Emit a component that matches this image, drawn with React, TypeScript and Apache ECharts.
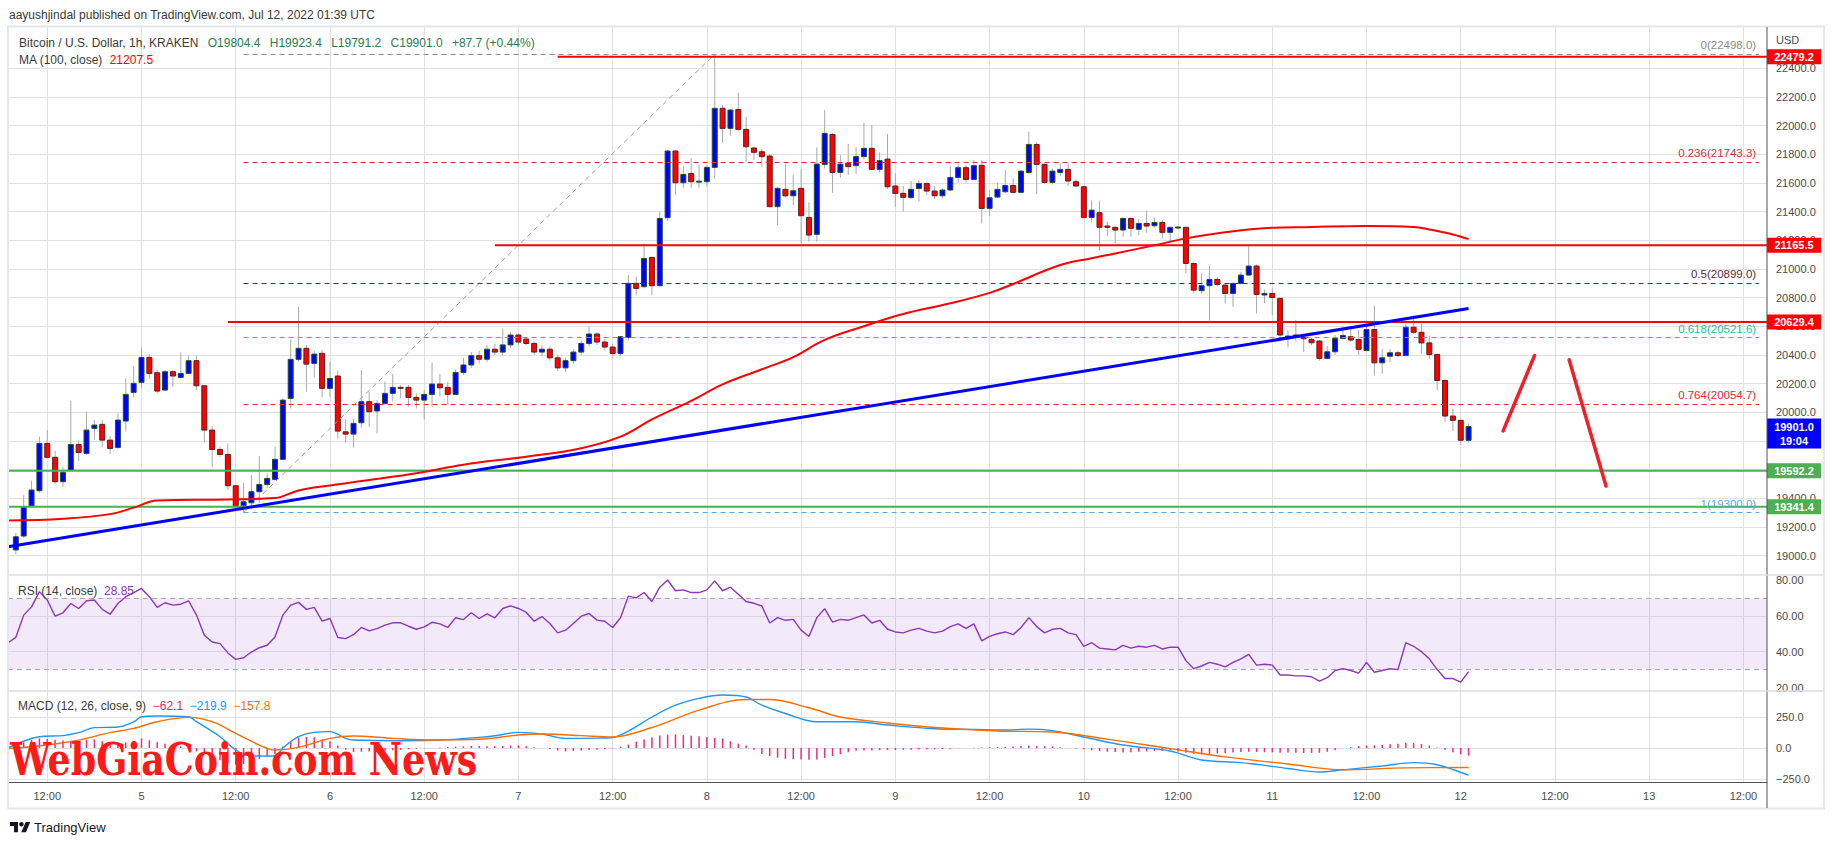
import React, { useEffect, useRef } from 'react';
import * as echarts from 'echarts';

const FONT = "'Liberation Sans', Arial, Helvetica, sans-serif";

// ---------- time axis (hourly slots, Jul 4 07:00 UTC .. Jul 13 15:00 UTC) ----------
const slotStart = Date.UTC(2022, 6, 4, 7);
const slotCount = 225;
const slots = Array.from({ length: slotCount }, (_, i) => new Date(slotStart + i * 3600e3).toISOString().slice(0, 13));
const tickLabels = ['12:00', '5', '12:00', '6', '12:00', '7', '12:00', '8', '12:00', '9', '12:00', '10', '12:00', '11', '12:00', '12', '12:00', '13', '12:00'];
const firstTickSlot = 5;
const tickEvery = 12;
const xMax = slotCount - 1;

// ---------- BTC/USD 1h candles [open, close, low, high], first candle in slot 1 ----------
const firstCandleSlot = 1;
const candles: number[][] = [
  [19040, 19132, 19010, 19160], [19137, 19341, 19125, 19423], [19346, 19458, 19341, 19523], [19453, 19783, 19441, 19830],
  [19783, 19686, 19679, 19876], [19686, 19516, 19504, 19732], [19516, 19581, 19481, 19620], [19597, 19776, 19590, 20081],
  [19776, 19720, 19660, 19806], [19713, 19876, 19705, 20004], [19888, 19911, 19806, 19946], [19916, 19806, 19760, 19946],
  [19806, 19748, 19709, 19834], [19755, 19946, 19741, 19992], [19939, 20125, 19865, 20236], [20139, 20202, 20104, 20323],
  [20209, 20383, 20167, 20453], [20383, 20271, 20236, 20406], [20276, 20148, 20132, 20295], [20155, 20283, 20148, 20295],
  [20283, 20253, 20178, 20295], [20243, 20271, 20236, 20418], [20271, 20360, 20267, 20395], [20360, 20185, 20155, 20395],
  [20185, 19876, 19788, 20190], [19876, 19741, 19620, 19904], [19741, 19706, 19690, 19760], [19706, 19488, 19458, 19783],
  [19488, 19348, 19341, 19493], [19348, 19376, 19300, 19509], [19369, 19446, 19330, 19562], [19446, 19497, 19365, 19695],
  [19497, 19539, 19469, 19574], [19532, 19672, 19523, 19760], [19672, 20085, 19667, 20097], [20097, 20369, 20027, 20508],
  [20369, 20446, 20353, 20736], [20446, 20336, 20143, 20469], [20341, 20406, 20243, 20429], [20411, 20167, 20104, 20434],
  [20167, 20236, 20109, 20353], [20253, 19869, 19818, 20290], [19864, 19848, 19788, 19953], [19848, 19923, 19755, 19957],
  [19927, 20074, 19895, 20295], [20074, 20004, 19899, 20143], [20009, 20062, 19853, 20085], [20062, 20132, 20051, 20213],
  [20132, 20174, 20074, 20267], [20174, 20167, 20097, 20190], [20174, 20104, 20039, 20190], [20104, 20085, 20027, 20132],
  [20085, 20125, 19951, 20155], [20125, 20197, 20039, 20346], [20197, 20171, 20109, 20267], [20174, 20125, 20051, 20213],
  [20125, 20278, 20120, 20299], [20278, 20330, 20260, 20380], [20330, 20395, 20310, 20420], [20395, 20370, 20340, 20430],
  [20370, 20440, 20350, 20470], [20440, 20420, 20400, 20480], [20420, 20470, 20400, 20585], [20470, 20539, 20450, 20560],
  [20539, 20490, 20470, 20550], [20511, 20480, 20470, 20525], [20480, 20420, 20400, 20495], [20420, 20440, 20390, 20470],
  [20440, 20380, 20360, 20460], [20380, 20310, 20290, 20400], [20310, 20360, 20280, 20380], [20360, 20420, 20340, 20440],
  [20420, 20480, 20400, 20500], [20480, 20546, 20460, 20597], [20546, 20490, 20470, 20560], [20490, 20455, 20430, 20510],
  [20455, 20410, 20380, 20480], [20410, 20527, 20395, 20530], [20522, 20899, 20500, 20957], [20899, 20864, 20818, 20946],
  [20876, 21073, 20864, 21178], [21080, 20883, 20818, 21085], [20883, 21352, 20876, 21399], [21357, 21822, 21334, 21830],
  [21822, 21601, 21515, 21830], [21601, 21659, 21566, 21713], [21666, 21608, 21566, 21771], [21608, 21612, 21566, 21724],
  [21608, 21708, 21573, 21724], [21708, 22120, 21631, 22498], [22120, 21980, 21880, 22143], [21980, 22108, 21929, 22115],
  [22112, 21973, 21957, 22229], [21973, 21852, 21748, 22061], [21843, 21813, 21759, 21852], [21817, 21783, 21713, 21834],
  [21787, 21434, 21430, 21799], [21434, 21562, 21306, 21573], [21555, 21510, 21499, 21731], [21510, 21545, 21445, 21655],
  [21562, 21371, 21178, 21696], [21359, 21236, 21190, 21464], [21241, 21731, 21190, 21848], [21729, 21945, 21701, 22108],
  [21938, 21673, 21531, 21945], [21673, 21731, 21636, 21794], [21736, 21713, 21655, 21871], [21720, 21783, 21662, 21848],
  [21783, 21841, 21764, 22020], [21841, 21694, 21689, 22003], [21694, 21755, 21671, 21813], [21766, 21573, 21557, 21941],
  [21578, 21527, 21434, 21667], [21527, 21499, 21399, 21578], [21497, 21555, 21487, 21613], [21561, 21596, 21469, 21620],
  [21596, 21543, 21515, 21600], [21543, 21510, 21487, 21578], [21510, 21550, 21492, 21561], [21550, 21638, 21545, 21717],
  [21638, 21706, 21601, 21736], [21706, 21624, 21601, 21724], [21624, 21720, 21620, 21759], [21722, 21422, 21317, 21759],
  [21422, 21496, 21371, 21545], [21501, 21555, 21495, 21601], [21538, 21582, 21527, 21689], [21582, 21534, 21527, 21631],
  [21534, 21682, 21527, 21689], [21673, 21868, 21661, 21957], [21868, 21729, 21522, 21882], [21729, 21603, 21596, 21736],
  [21603, 21682, 21589, 21701], [21673, 21694, 21648, 21736], [21694, 21613, 21580, 21736], [21608, 21578, 21569, 21627],
  [21573, 21359, 21350, 21578], [21359, 21410, 21324, 21476], [21392, 21290, 21127, 21476], [21299, 21290, 21229, 21329],
  [21290, 21271, 21178, 21294], [21271, 21352, 21224, 21360], [21352, 21283, 21224, 21360], [21276, 21317, 21236, 21348],
  [21317, 21299, 21252, 21406], [21301, 21324, 21290, 21357], [21324, 21255, 21213, 21341], [21255, 21290, 21190, 21294],
  [21290, 21292, 21280, 21300], [21290, 21038, 20969, 21294], [21038, 20852, 20829, 21043], [20848, 20883, 20829, 20969],
  [20883, 20927, 20639, 21020], [20927, 20892, 20876, 20941], [20887, 20829, 20759, 20899], [20829, 20899, 20736, 20904],
  [20899, 20957, 20892, 20980], [20957, 21020, 20950, 21162], [21020, 20822, 20690, 21030], [20818, 20829, 20764, 20857],
  [20829, 20801, 20678, 20864], [20794, 20539, 20527, 20800], [20530, 20532, 20453, 20573], [20539, 20527, 20492, 20643],
  [20522, 20513, 20422, 20550], [20508, 20485, 20469, 20522], [20497, 20376, 20360, 20504], [20376, 20422, 20369, 20462],
  [20422, 20515, 20399, 20539], [20515, 20536, 20508, 20597], [20527, 20504, 20492, 20597], [20508, 20439, 20399, 20573],
  [20431, 20577, 20425, 20628], [20577, 20345, 20257, 20744], [20345, 20380, 20269, 20443], [20391, 20415, 20350, 20443],
  [20415, 20396, 20385, 20431], [20396, 20593, 20392, 20616], [20593, 20558, 20547, 20674], [20558, 20484, 20408, 20616],
  [20484, 20403, 20373, 20535], [20403, 20222, 20153, 20410], [20222, 19974, 19933, 20230], [19974, 19944, 19870, 20026],
  [19944, 19805, 19771, 19949], [19804.4, 19901.0, 19791.2, 19923.4],
];

// MA(100, close) read points [slot, value]
const ma100: number[][] = [
  [0, 19245], [7, 19258], [13, 19290], [16, 19335], [19, 19385], [28, 19392], [34, 19402], [37, 19455], [41, 19490],
  [46, 19528], [52, 19575], [58, 19635], [66, 19690], [73, 19750], [78, 19830], [82, 19950], [87, 20080], [91, 20195],
  [96, 20300], [100, 20385], [104, 20505], [109, 20600], [114, 20685], [120, 20760], [125, 20833], [128, 20895],
  [134, 21027], [138, 21075], [141, 21108], [146, 21165], [150, 21213], [155, 21255], [160, 21284], [166, 21293],
  [173, 21300], [179, 21293], [181, 21275], [184, 21240], [186, 21207.5],
];

// drawings
const redLevels = [22479.2, 21165.5, 20629.4];
const redLevelStart = [70, 62, 28];
const greenLevels = [19592.2, 19341.4];
const greenLevelStart = [0, 0];
const trendLine = [[0, 19063], [186, 20724]];
const fibRatios = ['0', '0.236', '0.5', '0.618', '0.764', '1'];
const fibLevels = [22498.0, 21743.3, 20899.0, 20521.6, 20054.7, 19300.0];
const fibColors = ['#8a8a8a', '#d0323c', '#5d2a42', '#22c59a', '#e5283a', '#5aa7e3'];
const fibAnchor = [[30, 19300], [90, 22498]];
const fibEndSlot = 223;
const projectionUp = [[190.4, 19870], [194.4, 20396]];
const projectionDown = [[198.8, 20366], [203.5, 19486]];
const lastPrice = 19901.0;
const lastSlot = 186;

// RSI(14) per slot from slot 0
const rsi = [
  45, 48, 60.4, 65, 73.5, 68.8, 59.8, 61.7, 66.9, 64.1,
  68.4, 68.8, 63.6, 60.9, 66.9, 70.7, 72.9, 75.3, 70.7, 64.7,
  67.3, 66, 66.5, 68.4, 60.4, 49.2, 45.4, 44.5, 39.3, 35.7,
  36.6, 39.8, 42.2, 43.6, 48.2, 60.4, 66, 67.5, 63.6, 64.7,
  57, 58.5, 47.9, 47.3, 49.5, 53.5, 51.6, 52.9, 54.8, 56.1,
  56.1, 54.2, 52.5, 53.8, 56.4, 55.5, 53.5, 58.9, 57.9, 61.7,
  58.5, 61.1, 58.9, 64.1, 65.6, 64.1, 61.9, 57, 59.6, 55.7,
  50.5, 52, 55.7, 59.8, 61.3, 57.6, 57, 53.5, 58.9, 71,
  70, 73, 68, 76, 80, 74, 74.5, 73, 73, 74.5,
  79.5, 74, 76, 72, 68, 67, 65.5, 56, 59, 57.5,
  58, 52, 48.5, 59, 64, 56.5, 58, 57.5, 59, 60.5,
  56, 57.5, 52.5, 51, 50.5, 52, 53, 51.5, 50.5, 51.5,
  54, 55.5, 53, 55.5, 46, 48.5, 50, 51, 49.5, 53.5,
  59, 54, 50.5, 52.5, 53, 50.5, 49.5, 43, 45, 42,
  41.5, 41, 43.5, 42, 43, 42.5, 43.5, 41.5, 42.5, 42.5,
  35, 30.5, 32, 34, 33, 31.5, 34, 36, 38.5, 32.5,
  33, 32.5, 27, 27, 26.5, 26.5, 26, 23.5, 25.5, 29.5,
  30.5, 29.5, 28, 34, 28.5, 29.5, 30.5, 30, 45, 43,
  40, 36, 30, 25, 25, 23, 28.85,
];

// MACD(12,26,9) read points [slot, value]
const macdLine: number[][] = [
  [0, 0], [4, 91], [7, 100], [9, 124], [11, 164], [14, 169], [16, 210], [17, 252], [19, 258], [23, 252], [24, 212],
  [27, 91], [29, -16], [31, -64], [34, -64], [35, 0], [37, 91], [39, 126], [41, 132], [43, 78], [44, 64], [50, 59],
  [55, 64], [60, 86], [62, 99], [65, 126], [68, 113], [71, 78], [75, 80], [77, 85], [79, 137], [82, 250], [85, 345],
  [88, 400], [91, 427], [94, 411], [96, 345], [99, 278], [103, 212], [108, 212], [112, 185], [118, 155], [123, 150],
  [127, 145], [130, 152], [133, 140], [137, 89], [142, 24], [148, -24], [152, -97], [157, -118], [163, -165],
  [167, -194], [170, -176], [175, -145], [179, -118], [182, -135], [186, -219.9],
];
const signalLine: number[][] = [
  [0, -5], [5, 24], [9, 64], [13, 124], [16, 158], [19, 212], [23, 247], [26, 212], [29, 118], [32, 24], [34, -16],
  [37, 5], [41, 78], [44, 97], [49, 78], [54, 64], [60, 70], [65, 105], [68, 113], [73, 100], [77, 89], [82, 165],
  [88, 306], [94, 391], [97, 391], [102, 325], [106, 250], [112, 202], [118, 165], [126, 137], [133, 129], [140, 72],
  [148, -5], [155, -72], [163, -129], [170, -176], [178, -160], [186, -157.8],
];
// histogram per slot from slot 0
const histogram = [
  5, 25, 45, 65, 76, 74, 66, 60, 58, 60, 66, 69, 55, 42, 34, 44, 52, 77, 62, 46,
  34, 22, 12, 5, -28, -50, -72, -99, -120, -134, -130, -119, -88, -68, -48, 12, 50, 86, 90, 86,
  70, 54, 20, -14, -33, -30, -28, -25, -22, -19, -15, -10, -6, -3, 0, 4, 8, 11, 14, 16,
  16, 15, 14, 17, 20, 21, 14, 7, 0, -10, -20, -27, -24, -20, -17, -15, -10, -4, 10, 27,
  50, 68, 85, 100, 108, 110, 104, 98, 94, 88, 82, 77, 55, 35, 20, -15, -48, -65, -78, -87,
  -90, -92, -94, -93, -80, -65, -50, -35, -23, -21, -20, -18, -17, -16, -15, -14, -13, -11, -10, -8,
  -6, -3, 0, 2, 4, 6, 8, 9, 13, 17, 20, 17, 14, 11, 6, 1, -5, -11, -18, -24,
  -30, -33, -36, -34, -31, -28, -25, -22, -19, -28, -38, -46, -52, -48, -44, -40, -36, -33, -30, -32,
  -34, -35, -38, -36, -38, -40, -40, -39, -30, -18, 0, 8, 15, 20, 22, 25, 30, 35, 42, 40,
  32, 20, 5, -15, -35, -50, -62.1,
];

echarts.graphic.registerShape(
  'tvlogo',
  echarts.graphic.extendPath('M14 22H7V11H0V4h14v18zM28 22h-8l7.5-18h8L28 22zM24 8a4 4 0 1 1-8 0a4 4 0 1 1 8 0z', {})
);

const isTick = (i: number) => i >= firstTickSlot && (i - firstTickSlot) % tickEvery === 0;
const tickText = (i: number) => (isTick(i) ? tickLabels[(i - firstTickSlot) / tickEvery] || '' : '');

function levelSeries(v: number, start: number, color: string, width: number) {
  return {
    type: 'line', xAxisIndex: 1, yAxisIndex: 1, silent: true, z: 4,
    data: [[start, v], [xMax, v]], symbol: 'none',
    lineStyle: { color, width },
    markPoint: {
      silent: true, animation: false, symbol: 'rect', symbolSize: [54, 15], symbolOffset: [27, 0],
      itemStyle: { color },
      label: { show: true, position: 'inside', formatter: v.toFixed(1), color: '#ffffff', fontSize: 11, fontWeight: 'bold', fontFamily: FONT },
      data: [{ coord: [xMax, v] }],
    },
  };
}

function buildOption() {
  const axisLabelStyle = { color: '#4b4b4b', fontSize: 11, fontFamily: FONT };
  const series: any[] = [];

  // candles
  series.push({
    type: 'custom', name: 'BTCUSD', xAxisIndex: 1, yAxisIndex: 1, z: 3,
    data: candles.map((c, i) => [firstCandleSlot + i, c[0], c[1], c[2], c[3]]),
    encode: { x: 0, y: [1, 2, 3, 4] },
    renderItem: (params: any, api: any) => {
      const x = api.value(0);
      const o = api.value(1), c = api.value(2), l = api.value(3), h = api.value(4);
      const pO = api.coord([x, o]);
      const pC = api.coord([x, c]);
      const pL = api.coord([x, l]);
      const pH = api.coord([x, h]);
      const up = c >= o;
      const top = Math.min(pO[1], pC[1]);
      const bh = Math.max(Math.abs(pO[1] - pC[1]), 1);
      return {
        type: 'group',
        children: [
          { type: 'line', shape: { x1: pH[0], y1: pH[1], x2: pL[0], y2: pL[1] }, style: { stroke: '#a9a9a9', lineWidth: 1 } },
          { type: 'rect', shape: { x: pO[0] - 2.5, y: top, width: 5, height: bh }, style: { fill: up ? '#0000ff' : '#ff0000', stroke: up ? '#21542b' : '#5a1f1f', lineWidth: 1 } },
        ],
      };
    },
  });

  // MA 100
  series.push({
    type: 'line', name: 'MA100', xAxisIndex: 1, yAxisIndex: 1, data: ma100, smooth: 0.4, symbol: 'none', z: 5,
    lineStyle: { color: '#ff0000', width: 2 }, silent: true,
  });

  // fib retracement
  series.push({
    type: 'line', name: 'fib', xAxisIndex: 1, yAxisIndex: 1, data: fibAnchor, symbol: 'none', z: 3, silent: true,
    lineStyle: { color: '#a0a0a0', width: 1, type: [5, 4] },
    markLine: {
      silent: true, symbol: 'none', animation: false,
      label: { show: true, position: 'insideEndTop', fontSize: 11.5, fontFamily: FONT, distance: 3 },
      data: fibLevels.map((v, i) => [
        {
          coord: [fibAnchor[0][0], v],
          lineStyle: { color: fibColors[i], width: 1, type: [5, 4] },
          label: { color: fibColors[i], formatter: `${fibRatios[i]}(${v.toFixed(1)})` },
        },
        { coord: [fibEndSlot, v] },
      ]),
    },
  });

  redLevels.forEach((v, i) => series.push(levelSeries(v, redLevelStart[i], '#ff0000', 2)));
  greenLevels.forEach((v, i) => series.push(levelSeries(v, greenLevelStart[i], '#4caf50', 2)));

  // trend line
  series.push({
    type: 'line', name: 'trend', xAxisIndex: 1, yAxisIndex: 1, data: trendLine, symbol: 'none', z: 6, silent: true,
    lineStyle: { color: '#0000ff', width: 3 },
  });

  // projection strokes
  [projectionUp, projectionDown].forEach((d) =>
    series.push({
      type: 'line', xAxisIndex: 1, yAxisIndex: 1, data: d, symbol: 'none', z: 6, silent: true,
      lineStyle: { color: '#f0202a', width: 3.5, cap: 'round' },
    })
  );

  // last price tag
  series.push({
    type: 'line', name: 'last', xAxisIndex: 1, yAxisIndex: 1, data: [[lastSlot, lastPrice]], symbol: 'none', silent: true, z: 7,
    markPoint: {
      silent: true, animation: false, symbol: 'rect', symbolSize: [54, 30], symbolOffset: [27, 7],
      itemStyle: { color: '#0000ff' },
      label: { show: true, position: 'inside', formatter: `${lastPrice.toFixed(1)}\n19:04`, color: '#ffffff', fontSize: 11, fontWeight: 'bold', lineHeight: 14, fontFamily: FONT },
      data: [{ coord: [xMax, lastPrice] }],
    },
  });

  // RSI
  series.push({
    type: 'line', name: 'RSI', xAxisIndex: 2, yAxisIndex: 2, data: rsi.map((v, i) => [i, v]), symbol: 'none', clip: false,
    lineStyle: { color: '#8e36b8', width: 1.4 }, silent: true, z: 5,
    markArea: { silent: true, itemStyle: { color: 'rgba(150, 85, 225, 0.12)' }, data: [[{ yAxis: 70 }, { yAxis: 30 }]] },
    markLine: {
      silent: true, symbol: 'none', animation: false, label: { show: false },
      data: [
        { yAxis: 70, lineStyle: { color: '#a9a9b3', type: [5, 4], width: 1 } },
        { yAxis: 30, lineStyle: { color: '#a9a9b3', type: [5, 4], width: 1 } },
        { yAxis: 60, lineStyle: { color: '#d9d3e2', type: 'solid', width: 1 } },
        { yAxis: 40, lineStyle: { color: '#d9d3e2', type: 'solid', width: 1 } },
      ],
    },
  });

  // MACD
  series.push({
    type: 'bar', name: 'hist', xAxisIndex: 3, yAxisIndex: 3, data: histogram.map((v, i) => [i, v]), barWidth: 1.5,
    itemStyle: { color: '#f0306e' }, silent: true, z: 3,
  });
  series.push({
    type: 'line', name: 'MACD', xAxisIndex: 3, yAxisIndex: 3, data: macdLine, smooth: 0.35, symbol: 'none', clip: false,
    lineStyle: { color: '#2196f3', width: 1.4 }, silent: true, z: 5,
  });
  series.push({
    type: 'line', name: 'Signal', xAxisIndex: 3, yAxisIndex: 3, data: signalLine, smooth: 0.35, symbol: 'none', clip: false,
    lineStyle: { color: '#ff6d00', width: 1.4 }, silent: true, z: 5,
  });

  const txt = (x: number, y: number, text: string, fill: string, size = 12, z = 60) => ({
    type: 'text', x, y, z, silent: true,
    style: { text, fill, fontSize: size, fontFamily: FONT, verticalAlign: 'middle', align: 'left' },
  });
  const rich = (x: number, y: number, text: string, richStyles: any) => ({
    type: 'text', x, y, z: 60, silent: true,
    style: { text, rich: richStyles, fontSize: 12, fontFamily: FONT, verticalAlign: 'middle', align: 'left' },
  });
  const r = (fill: string) => ({ fill, fontSize: 12, fontFamily: FONT });
  const gap = '\u2002 ';

  return {
    animation: false,
    backgroundColor: '#ffffff',
    textStyle: { fontFamily: FONT },
    grid: [
      { left: 8, right: 67, top: 27, bottom: 63 },
      { left: 8, right: 67, top: 27, bottom: 289.3 },
      { left: 8, right: 67, top: 580, bottom: 157.5 },
      { left: 8, right: 67, top: 717, bottom: 66 },
      { left: 8, right: 67, top: 68.14, bottom: 289.3 },
    ],
    xAxis: [
      {
        type: 'category', gridIndex: 0, data: slots, boundaryGap: false,
        axisLine: { show: true, lineStyle: { color: '#50535e', width: 1 } },
        axisTick: { show: false },
        axisLabel: { ...axisLabelStyle, interval: (i: number) => isTick(i), formatter: (_v: string, i: number) => tickText(i), margin: 8, hideOverlap: false },
        splitLine: { show: true, interval: (i: number) => isTick(i), lineStyle: { color: '#e1e1e1', width: 1 } },
      },
      { type: 'value', gridIndex: 1, min: 0, max: xMax, show: false },
      { type: 'value', gridIndex: 2, min: 0, max: xMax, show: false },
      { type: 'value', gridIndex: 3, min: 0, max: xMax, show: false },
      { type: 'value', gridIndex: 4, min: 0, max: xMax, show: false },
    ],
    yAxis: [
      { type: 'value', gridIndex: 0, min: 0, max: 1, show: false },
      {
        type: 'value', gridIndex: 1, min: 19000, max: 22687, interval: 200, position: 'right',
        axisLine: { show: false }, axisTick: { show: false }, splitLine: { show: false },
        axisLabel: { ...axisLabelStyle, margin: 9, formatter: (v: number) => (v > 22450 ? '' : v.toFixed(1)) },
      },
      {
        type: 'value', gridIndex: 2, min: 20, max: 80, interval: 20, position: 'right',
        axisLine: { show: false }, axisTick: { show: false }, splitLine: { show: false },
        axisLabel: { ...axisLabelStyle, margin: 9, formatter: (v: number) => v.toFixed(2) },
      },
      {
        type: 'value', gridIndex: 3, min: -250, max: 250, interval: 250, position: 'right',
        axisLine: { show: false }, axisTick: { show: false },
        splitLine: { show: true, lineStyle: { color: '#e1e1e1' } },
        axisLabel: { ...axisLabelStyle, margin: 9, formatter: (v: number) => (v < 0 ? '\u2212' + Math.abs(v).toFixed(1) : v.toFixed(1)) },
      },
      {
        type: 'value', gridIndex: 4, min: 19000, max: 22400, interval: 200, position: 'right',
        axisLine: { show: false }, axisTick: { show: false }, axisLabel: { show: false },
        splitLine: { show: true, lineStyle: { color: '#e1e1e1' } },
      },
    ],
    series,
    graphic: {
      elements: [
        { type: 'rect', z: 50, silent: true, shape: { x: 8, y: 26.5, width: 1816, height: 782 }, style: { fill: 'none', stroke: '#e4e7ed', lineWidth: 2 } },
        { type: 'line', z: 50, silent: true, shape: { x1: 1767, y1: 27, x2: 1767, y2: 808 }, style: { stroke: '#50535e', lineWidth: 1 } },
        { type: 'line', z: 50, silent: true, shape: { x1: 8, y1: 575, x2: 1824, y2: 575 }, style: { stroke: '#dcdee3', lineWidth: 1.5 } },
        { type: 'line', z: 50, silent: true, shape: { x1: 8, y1: 691, x2: 1824, y2: 691 }, style: { stroke: '#dcdee3', lineWidth: 1.5 } },
        txt(9, 15, 'aayushjindal published on TradingView.com, Jul 12, 2022 01:39 UTC', '#3a3a3a', 12),
        rich(19, 43, `{a|Bitcoin / U.S. Dollar, 1h, KRAKEN}${gap}{b|O19804.4${gap}H19923.4${gap}L19791.2${gap}C19901.0${gap}+87.7 (+0.44%)}`, { a: r('#3a3a3a'), b: r('#2f7a55') }),
        rich(19, 60, '{a|MA (100, close)}  {b|21207.5}', { a: r('#3a3a3a'), b: r('#ff0000') }),
        rich(18, 591, '{a|RSI (14, close)}  {b|28.85}', { a: r('#3a3a3a'), b: r('#8e36b8') }),
        rich(18, 706, '{a|MACD (12, 26, close, 9)}  {m|\u221262.1}  {b|\u2212219.9}  {o|\u2212157.8}', { a: r('#3a3a3a'), m: r('#ec1a68'), b: r('#2196f3'), o: r('#ff6d00') }),
        txt(1776, 40, 'USD', '#4b4b4b', 11),
        {
          type: 'text', x: 10, y: 759, z: 90, silent: true, scaleX: 0.9,
          style: { text: 'WebGiaCoin.com News', fill: '#ff1a1a', fontSize: 45, fontWeight: 'bold', fontFamily: "'DejaVu Serif Condensed', 'DejaVu Serif', serif", verticalAlign: 'middle', align: 'left' },
        },
        { type: 'tvlogo', x: 10, y: 819.7, scaleX: 0.57, scaleY: 0.57, z: 60, silent: true, style: { fill: '#131722' } },
        txt(34, 827, 'TradingView', '#131722', 13),
      ],
    },
  };
}

export default function App() {
  const ref = useRef<HTMLDivElement>(null);
  useEffect(() => {
    document.body.style.margin = '0';
    const chart = echarts.init(ref.current as HTMLDivElement, null, { renderer: 'svg', width: 1834, height: 845 });
    chart.setOption(buildOption() as any);
    return () => chart.dispose();
  }, []);
  return <div ref={ref} style={{ position: 'fixed', left: 0, top: 0, width: 1834, height: 845, background: '#fff' }} />;
}
